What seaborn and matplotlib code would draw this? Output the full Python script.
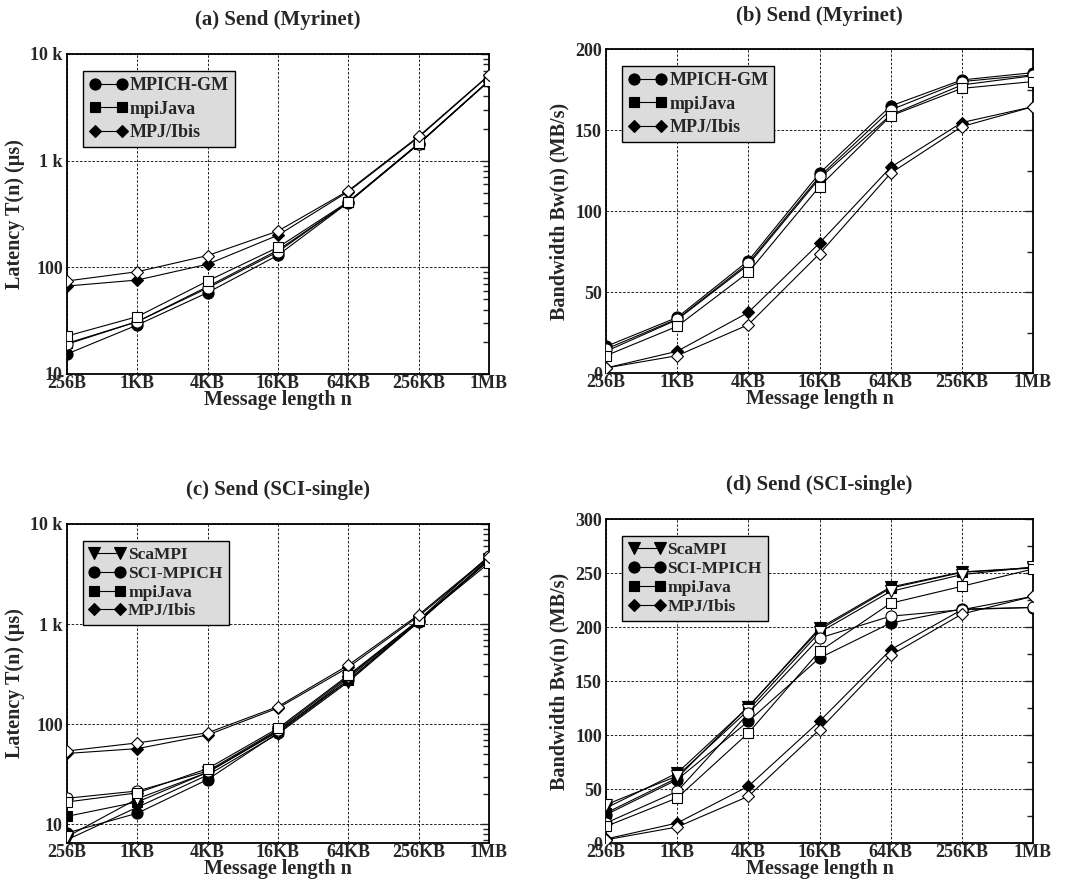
import numpy as np
import pandas as pd
import matplotlib
matplotlib.use("Agg")
import matplotlib.pyplot as plt
from matplotlib.ticker import FixedLocator, NullFormatter, MultipleLocator, LogLocator
import seaborn as sns

# ===== 数据 =====
sizes = [256, 1024, 4096, 16384, 65536, 262144, 1048576]
size_labels = ["256B", "1KB", "4KB", "16KB", "64KB", "256KB", "1MB"]

# (a) Myrinet 延迟 (us): 实测(实心) / 模型(空心)
a_mpich_meas = [15.4, 28.8, 58, 130, 405, 1430, 5600]
a_mpich_model = [19, 31, 64, 140, 410, 1440, 5600]
a_mpijava_meas = [19.4, 31, 66, 145, 406, 1440, 5620]
a_mpijava_model = [22.7, 34.5, 74.5, 154, 413, 1450, 5620]
a_ibis_meas = [66.8, 76, 107, 200, 513, 1660, 6300]
a_ibis_model = [74.5, 91, 129, 219, 523, 1690, 6350]

# (b) Myrinet 带宽 (MB/s)
b_mpich_meas = [16.4, 34.3, 69.3, 123.3, 164.8, 180.9, 185.4]
b_mpich_model = [14.8, 33.3, 67.8, 121.3, 162.4, 179.9, 184.0]
b_mpijava_meas = [13.4, 32.9, 66.8, 120.2, 159.3, 177.8, 183.5]
b_mpijava_model = [10.7, 28.8, 62.1, 115.1, 158.7, 175.7, 179.9]
b_ibis_meas = [3.1, 13.4, 37.4, 80.2, 127.0, 154.6, 164.4]
b_ibis_model = [3.1, 10.7, 29.8, 73.6, 123.3, 152.1, 164.4]

# (c) SCI-single 延迟 (us)
c_scampi_meas = [7.0, 14.8, 31, 80, 265, 1050, 4400]
c_scampi_model = [7.5, 18, 33, 84, 290, 1080, 4450]
c_scimpich_meas = [8.2, 12.9, 28, 82, 275, 1060, 4500]
c_scimpich_model = [18.2, 21.5, 34, 88, 300, 1100, 4820]
c_mpijava_meas = [12.0, 16.7, 33, 86, 275, 1070, 4300]
c_mpijava_model = [16.7, 20.6, 36, 91, 309, 1090, 4070]
c_ibis_meas = [51, 57, 78, 145, 370, 1200, 4600]
c_ibis_model = [54, 65, 82, 150, 389, 1240, 4700]

# (d) SCI-single 带宽 (MB/s)
d_scampi_meas = [32.4, 64.8, 126, 199, 237, 251, 255]
d_scampi_model = [35.5, 62, 123, 195, 233, 248.5, 255.6]
d_scimpich_meas = [26.2, 58.6, 112.7, 171.3, 203.7, 216.7, 218]
d_scimpich_model = [18.5, 47.8, 120, 189.8, 210, 216, 218.2]
d_mpijava_meas = [27.8, 60.2, 126.5, 197.5, 236, 250.6, 254.6]
d_mpijava_model = [15.4, 41.7, 101.9, 177.5, 222, 237.7, 253.7]
d_ibis_meas = [3.7, 18.5, 52.5, 112.7, 179, 216, 228.4]
d_ibis_model = [3.0, 14.8, 43.2, 104.9, 173.8, 212, 228.4]

myri_libs = ["MPICH-GM", "mpiJava", "MPJ/Ibis"]
sci_libs = ["ScaMPI", "SCI-MPICH", "mpiJava", "MPJ/Ibis"]
markers = {"ScaMPI": "v", "SCI-MPICH": "o", "MPICH-GM": "o", "mpiJava": "s", "MPJ/Ibis": "D"}
msizes = {"v": 8, "o": 8, "s": 7.5, "D": 6.5}

sns.set_style("white")
plt.rcParams["font.family"] = ["Liberation Serif", "DejaVu Serif"]
plt.rcParams["font.weight"] = "bold"
plt.rcParams["axes.labelweight"] = "bold"
plt.rcParams["axes.titleweight"] = "bold"

fig = plt.figure(figsize=(10.66, 8.86), dpi=100)
W, H = 1066, 886


def add_ax(left, top, right, bottom):
    return fig.add_axes([left / W, 1 - bottom / H, (right - left) / W, (bottom - top) / H])


def draw_panel(ax, libs, meas, model, title, ylabel, logy, ylim,
               leg_size, label_spacing, title_pad):
    ax.set_xscale("log", base=2)
    if logy:
        ax.set_yscale("log")
    # 实心: 实测值; 空心: 模型值
    for lib, m in zip(libs, meas):
        mk = markers[lib]
        sns.lineplot(x=sizes, y=m, ax=ax, color="black", lw=0.8, marker=mk,
                     markersize=msizes[mk], markerfacecolor="black",
                     markeredgecolor="black", markeredgewidth=0.8, label=lib, zorder=3)
    for lib, m in zip(libs, model):
        mk = markers[lib]
        sns.lineplot(x=sizes, y=m, ax=ax, color="black", lw=0.8, marker=mk,
                     markersize=msizes[mk], markerfacecolor="white",
                     markeredgecolor="black", markeredgewidth=0.8, zorder=4)

    ax.set_xlim(sizes[0], sizes[-1])
    ax.set_ylim(*ylim)
    ax.xaxis.set_major_locator(FixedLocator(sizes))
    ax.xaxis.set_minor_locator(FixedLocator([]))
    ax.set_xticklabels(size_labels)
    if logy:
        ax.yaxis.set_major_locator(FixedLocator([10, 100, 1000, 10000]))
        ax.set_yticklabels(["10", "100", "1 k", "10 k"])
        ax.yaxis.set_minor_locator(LogLocator(base=10, subs=np.arange(2, 10)))
        ax.yaxis.set_minor_formatter(NullFormatter())
    else:
        ax.yaxis.set_major_locator(MultipleLocator(50))
        ax.yaxis.set_minor_locator(MultipleLocator(25))

    ax.grid(True, which="major", linestyle=(0, (3, 2)), color="black", lw=0.6)
    ax.tick_params(axis="both", which="both", labelsize=13, direction="in")
    ax.tick_params(axis="y", which="both", left=False, right=True, pad=3)
    ax.tick_params(axis="y", which="major", length=6, width=1)
    ax.tick_params(axis="y", which="minor", length=4, width=1)
    ax.tick_params(axis="x", which="both", bottom=False, top=False, pad=1)
    for sp in ax.spines.values():
        sp.set_linewidth(1.3)
        sp.set_color("black")

    ax.set_xlabel("Message length n", fontsize=14.5, labelpad=-2)
    ax.set_ylabel(ylabel, fontsize=14.5, labelpad=4)
    ax.set_title(title, fontsize=15, pad=title_pad)

    leg = ax.legend(loc="upper left", bbox_to_anchor=(0.038, 0.947), borderaxespad=0,
                    fancybox=False, framealpha=1, facecolor="#dcdcdc", edgecolor="black",
                    fontsize=leg_size, handlelength=2.1, handletextpad=0.15,
                    labelspacing=label_spacing, borderpad=0.35, numpoints=2)
    leg.get_frame().set_linewidth(1.0)
    for t in leg.get_texts():
        t.set_fontweight("bold")


ax_a = add_ax(67, 54, 489, 374)
draw_panel(ax_a, myri_libs,
           [a_mpich_meas, a_mpijava_meas, a_ibis_meas],
           [a_mpich_model, a_mpijava_model, a_ibis_model],
           "(a) Send (Myrinet)", "Latency T(n) (µs)", True, (10, 10000), 13, 0.35, 21)

ax_b = add_ax(606, 49, 1033, 373)
draw_panel(ax_b, myri_libs,
           [b_mpich_meas, b_mpijava_meas, b_ibis_meas],
           [b_mpich_model, b_mpijava_model, b_ibis_model],
           "(b) Send (Myrinet)", "Bandwidth Bw(n) (MB/s)", False, (0, 200), 13, 0.35, 20)

ax_c = add_ax(67, 524, 489, 843)
draw_panel(ax_c, sci_libs,
           [c_scampi_meas, c_scimpich_meas, c_mpijava_meas, c_ibis_meas],
           [c_scampi_model, c_scimpich_model, c_mpijava_model, c_ibis_model],
           "(c) Send (SCI-single)", "Latency T(n) (µs)", True, (6.5, 10000), 12.5, 0.15, 21)

ax_d = add_ax(606, 519, 1033, 843)
draw_panel(ax_d, sci_libs,
           [d_scampi_meas, d_scimpich_meas, d_mpijava_meas, d_ibis_meas],
           [d_scampi_model, d_scimpich_model, d_mpijava_model, d_ibis_model],
           "(d) Send (SCI-single)", "Bandwidth Bw(n) (MB/s)", False, (0, 300), 12.5, 0.15, 21)

fig.savefig("out.png", dpi=100, facecolor="white")
